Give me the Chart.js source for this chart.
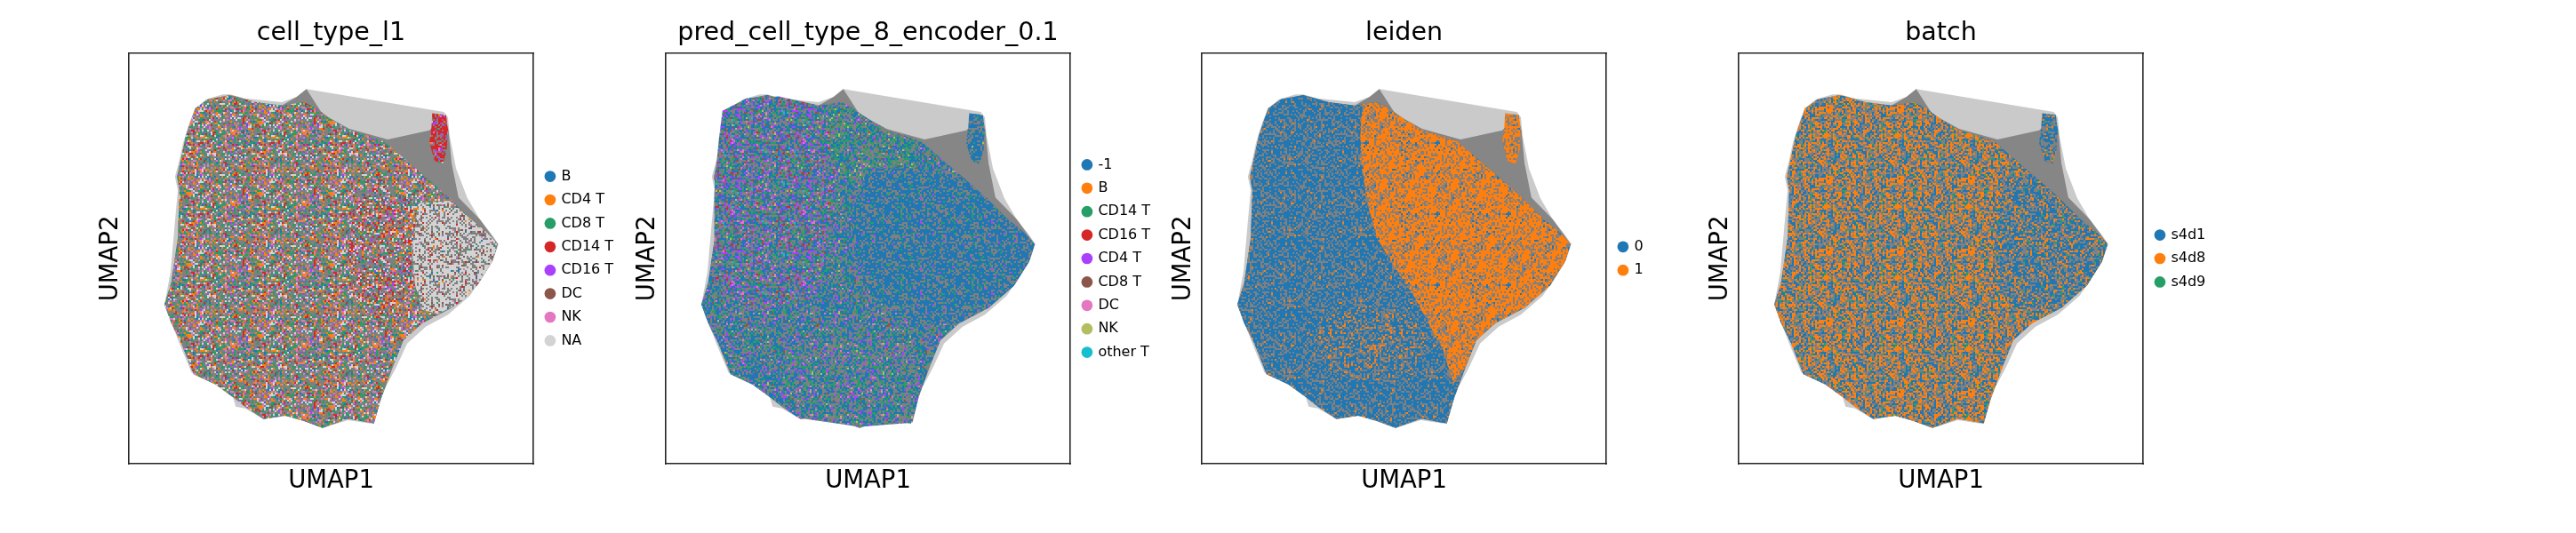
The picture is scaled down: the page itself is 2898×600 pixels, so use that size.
<!DOCTYPE html>
<html>
<head>
<meta charset="utf-8">
<script src="https://cdn.jsdelivr.net/npm/chart.js@4.4.1/dist/chart.umd.min.js"></script>
<style>
  html, body { margin: 0; padding: 0; background: #ffffff; width: 2898px; height: 600px; overflow: hidden; }
  canvas { position: absolute; top: 0; }
</style>
</head>
<body>
<script>
// ---------------- DATA (UMAP coordinates, arbitrary units 0..100) ----------------
// Outline of the whole embedding incl. the faint neighbour-graph edges
const outerOutline = [[43.9,91.3],[77.9,85.7],[78.9,84.4],[79.3,80.0],[80.9,71.9],[83.7,64.7],[86.8,59.5],[89.8,55.8],[91.4,53.5],[90.2,50.0],[87.1,45.0],[84.3,40.9],[78.9,36.3],[73.4,33.4],[68.8,29.3],[66.1,23.5],[63.4,18.5],[61.5,13.5],[59.7,9.8],[54.2,10.6],[47.9,8.7],[43.3,10.6],[39.7,12.0],[33.3,10.9],[28.7,13.5],[26.4,13.9],[25.1,18.5],[19.6,21.0],[15.5,22.2],[12.5,29.3],[10.9,33.4],[8.8,38.8],[10.3,46.7],[11.4,59.1],[12.1,66.6],[11.4,69.9],[12.5,74.0],[13.4,78.2],[15.0,83.2],[16.4,86.6],[19.1,88.8],[23.2,90.0],[25.1,90.0],[28.7,89.0],[37.8,88.1],[41.5,89.4]];
// Dense part of the edge bundle (incl. the fan towards the top-right cluster)
const edgeCoreOutline = [[43.9,91.3],[47.9,85.2],[54.5,81.6],[64.0,79.0],[74.3,81.2],[77.5,84.4],[79.0,81.5],[79.8,73.2],[81.5,64.9],[86.8,59.5],[91.2,53.5],[89.8,49.2],[86.1,43.4],[79.8,38.0],[72.5,34.2],[67.9,30.1],[65.2,23.5],[62.4,16.0],[60.6,9.8],[54.2,11.0],[47.9,8.7],[43.3,10.4],[38.7,11.7],[33.3,10.9],[28.7,13.9],[26.0,16.0],[21.4,19.3],[16.0,21.8],[13.0,29.3],[10.5,34.2],[8.8,38.8],[10.5,44.2],[12.1,55.0],[12.5,66.6],[11.9,69.9],[13.0,74.9],[14.1,79.9],[16.4,86.6],[19.6,88.8],[25.1,89.8],[31.4,88.1],[37.8,87.3],[41.5,89.4]];
// Cloud of cells
const cloudOutline = [[16.4,86.6],[19.6,88.8],[25.1,89.8],[31.4,88.1],[37.8,87.3],[43.3,88.1],[45.7,87.0],[50.0,84.0],[54.5,81.2],[59.5,79.8],[63.3,78.4],[67.7,74.7],[73.6,69.7],[79.3,64.7],[84.6,59.5],[88.5,56.4],[91.2,53.5],[89.8,49.2],[86.1,43.4],[79.8,38.0],[72.5,34.2],[67.9,30.1],[65.2,23.5],[62.4,16.0],[60.6,9.8],[54.2,11.0],[47.9,8.7],[43.3,10.4],[38.7,11.7],[33.3,10.9],[28.7,13.9],[26.0,16.0],[21.4,19.3],[16.0,21.8],[13.0,29.3],[10.5,34.2],[8.8,38.8],[10.5,44.2],[12.1,55.0],[12.5,66.6],[11.9,69.9],[13.0,74.9],[14.1,79.9]];
// Small separate cluster at the top right
const clusterOutline = [[75.0,85.4],[78.4,85.0],[78.9,81.5],[78.6,76.5],[77.6,73.0],[75.6,73.8],[74.3,78.2],[74.8,81.8]];

// Sub-regions with a distinct colour mix
const redRichOutline = [[56,66],[64,68],[70,64],[72,55],[70,42],[64,35],[57,38],[54,50]];
const naOutline = [[71.5,63.5],[79.3,64.0],[84.6,59.5],[88.5,56.4],[91.2,53.5],[89.8,49.2],[86.1,43.4],[81.8,39.2],[76.5,36.5],[72.5,37.5],[70.8,43.4],[70.0,52.0]];
const predLeftOutline = [[14,86],[20,89],[28,89.5],[37,87.5],[42,80],[42,65],[40,50],[35,40],[22,37],[12,44],[12,66],[13,78]];
const predTopOutline = [[40,87.5],[46,86.5],[51,83.5],[56,80.8],[62,78.5],[63,70],[55,66],[46,68],[41,75]];
const predRightOutline = [[50,72],[62,72],[73.6,69.7],[79.3,64.7],[84.6,59.5],[88.5,56.4],[91.2,53.5],[89.8,49.2],[86.1,43.4],[79.8,38],[72.5,34.2],[62,34],[52,40],[47,50],[46,62]];
const predBottomOutline = [[30,28],[45,32],[58,30],[64,22],[61,10],[48,9],[34,11],[28,16]];
const leidenOneOutline = [[39.7,87.6],[39.2,79.9],[39.7,71.6],[41.0,63.3],[43.3,55.0],[47.9,47.5],[52.4,40.9],[56.1,34.2],[59.7,27.6],[62.2,19.5],[65.2,23.5],[67.9,30.1],[72.5,34.2],[79.8,38.0],[86.1,43.4],[89.8,49.2],[91.2,53.5],[88.5,56.4],[84.6,59.5],[79.3,64.7],[73.6,69.7],[67.7,74.7],[63.3,78.4],[59.5,79.8],[54.5,81.2],[50.0,84.0],[45.7,87.0],[43.3,88.1]];
const leidenMixOutline = [[30,36],[42,38],[52,36],[56,30],[52,22],[42,20],[32,22],[28,28]];
const batchRightOutline = [[66,70],[73.6,69.7],[79.3,64.7],[84.6,59.5],[88.5,56.4],[91.2,53.5],[89.8,49.2],[86.1,43.4],[79.8,38],[72,35],[66,40],[63,52]];

// Categories and colours
const cellTypeCats = ['B','CD4 T','CD8 T','CD14 T','CD16 T','DC','NK','NA'];
const cellTypeColors = ['#1f77b4','#ff7f0e','#279e68','#d62728','#aa40fc','#8c564b','#e377c2','#d3d3d3'];
const predCats = ['-1','B','CD14 T','CD16 T','CD4 T','CD8 T','DC','NK','other T'];
const predColors = ['#1f77b4','#ff7f0e','#279e68','#d62728','#aa40fc','#8c564b','#e377c2','#b5bd61','#17becf'];
const leidenCats = ['0','1'];
const leidenColors = ['#1f77b4','#ff7f0e'];
const batchCats = ['s4d1','s4d8','s4d9'];
const batchColors = ['#1f77b4','#ff7f0e','#279e68'];

// Share of visible dots per category in each region (last value = uncovered edge gray)
const cellTypeMixMain    = [4, 12, 17, 5, 3, 2, 9, 10, 38];
const cellTypeMixRed     = [4, 9, 12, 13, 3, 2, 8, 12, 37];
const cellTypeMixNA      = [1, 1, 1, 3, 0, 4, 1, 56, 33];
const cellTypeMixCluster = [0, 2, 2, 55, 8, 0, 5, 2, 26];
const predMixBase    = [42, 0, 15, 0, 5, 2, 2, 1, 0, 33];
const predMixLeft    = [30, 0, 14, 1, 12, 7, 3, 1, 1, 31];
const predMixTop     = [30, 0, 26, 0, 3, 2, 1, 4, 0, 34];
const predMixRight   = [62, 0, 5, 0, 1, 0, 0, 0, 0, 32];
const predMixBottom  = [32, 0, 20, 0, 8, 1, 3, 1, 0, 35];
const predMixCluster = [60, 0, 4, 0, 0, 0, 0, 2, 0, 34];
const leidenMixZero    = [62, 3, 35];
const leidenMixOne     = [4, 62, 34];
const leidenMixLower   = [50, 13, 37];
const leidenMixCluster = [4, 62, 34];
const batchMixBase    = [28, 34, 4, 34];
const batchMixRight   = [46, 18, 3, 33];
const batchMixCluster = [55, 8, 3, 34];

// ---------------- STYLE / LAYOUT ----------------
const FONT = "'DejaVu Sans', sans-serif";
const PANEL_LEFT = [145, 749, 1352, 1956];
const PLOT_W = 455;
const Y_AXIS_W = 60;
const RIGHT_GAP = 4;
const GAP_GRAY = '#808080';
const EDGE_LIGHT = 'rgba(128,128,128,0.42)';
const EDGE_DARK = '#868686';
const FRAME = '#262626';

function hash(n) {
  n = Math.imul(n ^ (n >>> 16), 0x45d9f3b);
  n = Math.imul(n ^ (n >>> 16), 0x45d9f3b);
  n = n ^ (n >>> 16);
  return (n >>> 0) / 4294967296;
}

// speckle texture (style only): gray ground with small coloured dots in the given proportions
function makePattern(colors, mix, seed) {
  const cell = 2, n = 40, size = cell * n;
  const c = document.createElement('canvas');
  c.width = size; c.height = size;
  const g = c.getContext('2d');
  g.fillStyle = GAP_GRAY;
  g.fillRect(0, 0, size, size);
  const total = mix.reduce((a, b) => a + b, 0);
  for (let i = 0; i < n * n; i++) {
    let r = hash(i * 31 + seed * 100003 + 7) * total;
    let j = 0;
    while (j < mix.length - 1 && r >= mix[j]) { r -= mix[j]; j++; }
    if (j >= colors.length) continue;
    g.fillStyle = colors[j];
    g.fillRect((i % n) * cell, Math.floor(i / n) * cell, cell, cell);
  }
  return g.createPattern(c, 'repeat');
}

function poly(points, bg, order) {
  return {
    data: points.map(p => ({ x: p[0], y: p[1] })),
    showLine: true,
    fill: 'shape',
    backgroundColor: bg,
    borderColor: 'rgba(0,0,0,0)',
    borderWidth: 0,
    pointRadius: 0,
    pointHoverRadius: 0,
    clip: false,
    order: order
  };
}

function legendWidth(labels) {
  const g = document.createElement('canvas').getContext('2d');
  g.font = '16px ' + FONT;
  let m = 0;
  labels.forEach(t => { m = Math.max(m, g.measureText(t).width); });
  return 10.4 + 9 + 8 + m + 10;
}

function frameAxis(position, extra) {
  return Object.assign({
    type: 'linear', position: position, min: 0, max: 100,
    grid: { display: false, drawTicks: false, tickLength: 0 },
    ticks: { display: false },
    border: { display: true, color: FRAME, width: 1.6 }
  }, extra || {});
}

function buildPanel(k, title, cats, colors, regions) {
  const lw = legendWidth(cats);
  const exact = Y_AXIS_W + PLOT_W + RIGHT_GAP + lw;
  const W = Math.ceil(exact);
  const canvas = document.createElement('canvas');
  canvas.width = W; canvas.height = 600;
  canvas.style.left = (PANEL_LEFT[k] - Y_AXIS_W) + 'px';
  canvas.style.width = W + 'px';
  canvas.style.height = '600px';
  document.body.appendChild(canvas);

  const datasets = [poly(outerOutline, EDGE_LIGHT, 100), poly(edgeCoreOutline, EDGE_DARK, 90)];
  regions.forEach((r, i) => datasets.push(poly(r[0], makePattern(colors, r[1], k * 10 + i + 1), 80 - i)));

  new Chart(canvas, {
    type: 'scatter',
    data: { datasets: datasets },
    options: {
      responsive: false,
      animation: false,
      devicePixelRatio: 1,
      events: [],
      layout: { autoPadding: false, padding: { left: 0, top: 0, bottom: 0, right: W - exact } },
      scales: {
        x: frameAxis('bottom', {
          title: { display: true, text: 'UMAP1', color: '#000', font: { family: FONT, size: 27.5, lineHeight: 1.2 }, padding: { top: 3.7, bottom: 41.3 } }
        }),
        y: frameAxis('left', {
          title: { display: true, text: 'UMAP2', color: '#000', font: { family: FONT, size: 27.5, lineHeight: 1.2 }, padding: { top: 23, bottom: 4 } }
        }),
        x2: frameAxis('top'),
        y2: frameAxis('right', { afterFit: s => { s.width = RIGHT_GAP; } })
      },
      plugins: {
        tooltip: { enabled: false },
        title: {
          display: true, text: title, fullSize: false, color: '#000',
          font: { family: FONT, size: 28.5, weight: 'normal', lineHeight: 1.2 },
          padding: { top: 20.7, bottom: 5.1 }
        },
        legend: {
          display: true, position: 'right', align: 'center', fullSize: false,
          labels: {
            usePointStyle: true, boxWidth: 9, boxHeight: 9, padding: 10.4, color: '#000',
            font: { family: FONT, size: 16 },
            generateLabels: () => cats.map((c, i) => ({
              text: c, fillStyle: colors[i], strokeStyle: colors[i], lineWidth: 0,
              pointStyle: 'circle', hidden: false, fontColor: '#000'
            }))
          }
        }
      }
    }
  });
}

buildPanel(0, 'cell_type_l1', cellTypeCats, cellTypeColors, [
  [cloudOutline, cellTypeMixMain], [redRichOutline, cellTypeMixRed], [naOutline, cellTypeMixNA], [clusterOutline, cellTypeMixCluster]
]);
buildPanel(1, 'pred_cell_type_8_encoder_0.1', predCats, predColors, [
  [cloudOutline, predMixBase], [predLeftOutline, predMixLeft], [predTopOutline, predMixTop],
  [predRightOutline, predMixRight], [predBottomOutline, predMixBottom], [clusterOutline, predMixCluster]
]);
buildPanel(2, 'leiden', leidenCats, leidenColors, [
  [cloudOutline, leidenMixZero], [leidenOneOutline, leidenMixOne], [leidenMixOutline, leidenMixLower], [clusterOutline, leidenMixCluster]
]);
buildPanel(3, 'batch', batchCats, batchColors, [
  [cloudOutline, batchMixBase], [batchRightOutline, batchMixRight], [clusterOutline, batchMixCluster]
]);
</script>
</body>
</html>
